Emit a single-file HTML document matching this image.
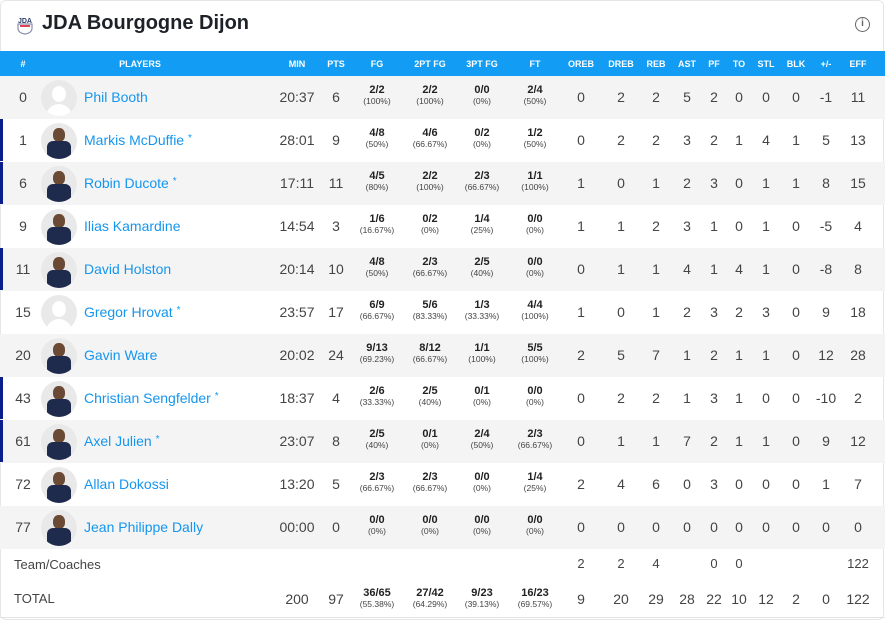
<!DOCTYPE html>
<html><head><meta charset="utf-8"><style>
*{margin:0;padding:0;box-sizing:border-box}
body{width:885px;height:625px;background:#fff;font-family:"Liberation Sans",Arial,sans-serif;position:relative;overflow:hidden;color:#444}
.card{position:absolute;left:0;top:0;width:884px;height:620px;border:1px solid #e6e6e6;border-radius:6px}
.title{position:absolute;left:42px;top:12px;font-size:20px;font-weight:bold;color:#1e2228}
.logo{position:absolute;left:15px;top:15px;width:20px;height:20px}
.info{position:absolute;left:855px;top:17px;width:15px;height:15px;border:1.5px solid #666;border-radius:50%;font-size:10px;text-align:center;line-height:12px;color:#666;font-weight:bold}
.hdr{position:absolute;left:0;top:51px;width:885px;height:25px;background:#129cf3;color:#fff;font-size:9px;font-weight:bold}
.row{position:absolute;left:0;width:885px;height:43px}
.g{background:#f4f4f4}
.row>div,.hdr>div{position:absolute;text-align:center}
.hdr>div{top:8px}
.row>div{top:13px;font-size:14px}
.row>div.f{top:8px;font-size:11px;font-weight:bold;color:#222;line-height:12px}
.f small{display:block;font-size:8.5px;font-weight:normal;color:#444;line-height:11px}
.mk{position:absolute;left:0;top:0 !important;width:3px;height:42px;background:#0b1f8c}
.av{top:4px !important;left:41px;width:36px;height:36px;border-radius:50%;background:#e9e9e9;overflow:hidden}
.av.p::before{content:"";position:absolute;left:12px;top:5px;width:12px;height:14px;border-radius:45%;background:#6b4a35}
.av.p::after{content:"";position:absolute;left:6px;top:18px;width:24px;height:20px;border-radius:6px 6px 0 0;background:#1f2b4d}
.av.e::before{content:"";position:absolute;left:11px;top:6px;width:14px;height:16px;border-radius:50%;background:#fff}
.av.e::after{content:"";position:absolute;left:5px;top:24px;width:26px;height:16px;border-radius:13px 13px 0 0;background:#fff}
.nm{left:84px;text-align:left !important;color:#1596ee}
.nm sup{font-size:10px;vertical-align:4px}
.c0{left:3px;width:40px}.c1{left:84px;width:180px}
.c2{left:272px;width:50px}.c3{left:316px;width:40px}
.c4{left:347px;width:60px}.c5{left:400px;width:60px}.c6{left:452px;width:60px}.c7{left:505px;width:60px}
.c8{left:561px;width:40px}.c9{left:601px;width:40px}.c10{left:636px;width:40px}.c11{left:667px;width:40px}
.c12{left:694px;width:40px}.c13{left:719px;width:40px}.c14{left:746px;width:40px}.c15{left:776px;width:40px}
.c16{left:806px;width:40px}.c17{left:838px;width:40px}
.lbl{left:14px;text-align:left !important;font-size:13px !important}
.line{position:absolute;left:0;top:617px;width:885px;height:1px;background:#e3e3e3}
</style></head><body>
<div class="card"></div>
<svg class="logo" viewBox="0 0 20 20"><text x="10" y="8" font-size="7" font-weight="bold" text-anchor="middle" fill="#2a3a6a" font-family="Liberation Sans">JDA</text><path d="M3 9 H17 V13 Q17 18 10 19 Q3 18 3 13Z" fill="none" stroke="#8a8fb0" stroke-width="1.2"/><rect x="5" y="10" width="10" height="2" fill="#d45"/></svg>
<div class="title">JDA Bourgogne Dijon</div>
<div class="info">i</div>
<div class="hdr">
<div class="c0">#</div><div class="c1" style="left:60px;width:160px">PLAYERS</div><div class="c2">MIN</div><div class="c3">PTS</div><div class="c4">FG</div><div class="c5">2PT FG</div><div class="c6">3PT FG</div><div class="c7">FT</div><div class="c8">OREB</div><div class="c9">DREB</div><div class="c10">REB</div><div class="c11">AST</div><div class="c12">PF</div><div class="c13">TO</div><div class="c14">STL</div><div class="c15">BLK</div><div class="c16">+/-</div><div class="c17">EFF</div>
</div>

<div class="row g" style="top:76px"><div class="c0">0</div><div class="av e"></div><div class="nm">Phil Booth</div><div class="c2">20:37</div><div class="c3">6</div><div class="c4 f">2/2<small>(100%)</small></div><div class="c5 f">2/2<small>(100%)</small></div><div class="c6 f">0/0<small>(0%)</small></div><div class="c7 f">2/4<small>(50%)</small></div><div class="c8">0</div><div class="c9">2</div><div class="c10">2</div><div class="c11">5</div><div class="c12">2</div><div class="c13">0</div><div class="c14">0</div><div class="c15">0</div><div class="c16">-1</div><div class="c17">11</div></div>

<div class="row" style="top:119px"><div class="mk"></div><div class="c0">1</div><div class="av p"></div><div class="nm">Markis McDuffie <sup>*</sup></div><div class="c2">28:01</div><div class="c3">9</div><div class="c4 f">4/8<small>(50%)</small></div><div class="c5 f">4/6<small>(66.67%)</small></div><div class="c6 f">0/2<small>(0%)</small></div><div class="c7 f">1/2<small>(50%)</small></div><div class="c8">0</div><div class="c9">2</div><div class="c10">2</div><div class="c11">3</div><div class="c12">2</div><div class="c13">1</div><div class="c14">4</div><div class="c15">1</div><div class="c16">5</div><div class="c17">13</div></div>

<div class="row g" style="top:162px"><div class="mk"></div><div class="c0">6</div><div class="av p"></div><div class="nm">Robin Ducote <sup>*</sup></div><div class="c2">17:11</div><div class="c3">11</div><div class="c4 f">4/5<small>(80%)</small></div><div class="c5 f">2/2<small>(100%)</small></div><div class="c6 f">2/3<small>(66.67%)</small></div><div class="c7 f">1/1<small>(100%)</small></div><div class="c8">1</div><div class="c9">0</div><div class="c10">1</div><div class="c11">2</div><div class="c12">3</div><div class="c13">0</div><div class="c14">1</div><div class="c15">1</div><div class="c16">8</div><div class="c17">15</div></div>

<div class="row" style="top:205px"><div class="c0">9</div><div class="av p"></div><div class="nm">Ilias Kamardine</div><div class="c2">14:54</div><div class="c3">3</div><div class="c4 f">1/6<small>(16.67%)</small></div><div class="c5 f">0/2<small>(0%)</small></div><div class="c6 f">1/4<small>(25%)</small></div><div class="c7 f">0/0<small>(0%)</small></div><div class="c8">1</div><div class="c9">1</div><div class="c10">2</div><div class="c11">3</div><div class="c12">1</div><div class="c13">0</div><div class="c14">1</div><div class="c15">0</div><div class="c16">-5</div><div class="c17">4</div></div>

<div class="row g" style="top:248px"><div class="mk"></div><div class="c0">11</div><div class="av p"></div><div class="nm">David Holston</div><div class="c2">20:14</div><div class="c3">10</div><div class="c4 f">4/8<small>(50%)</small></div><div class="c5 f">2/3<small>(66.67%)</small></div><div class="c6 f">2/5<small>(40%)</small></div><div class="c7 f">0/0<small>(0%)</small></div><div class="c8">0</div><div class="c9">1</div><div class="c10">1</div><div class="c11">4</div><div class="c12">1</div><div class="c13">4</div><div class="c14">1</div><div class="c15">0</div><div class="c16">-8</div><div class="c17">8</div></div>

<div class="row" style="top:291px"><div class="c0">15</div><div class="av e"></div><div class="nm">Gregor Hrovat <sup>*</sup></div><div class="c2">23:57</div><div class="c3">17</div><div class="c4 f">6/9<small>(66.67%)</small></div><div class="c5 f">5/6<small>(83.33%)</small></div><div class="c6 f">1/3<small>(33.33%)</small></div><div class="c7 f">4/4<small>(100%)</small></div><div class="c8">1</div><div class="c9">0</div><div class="c10">1</div><div class="c11">2</div><div class="c12">3</div><div class="c13">2</div><div class="c14">3</div><div class="c15">0</div><div class="c16">9</div><div class="c17">18</div></div>

<div class="row g" style="top:334px"><div class="c0">20</div><div class="av p"></div><div class="nm">Gavin Ware</div><div class="c2">20:02</div><div class="c3">24</div><div class="c4 f">9/13<small>(69.23%)</small></div><div class="c5 f">8/12<small>(66.67%)</small></div><div class="c6 f">1/1<small>(100%)</small></div><div class="c7 f">5/5<small>(100%)</small></div><div class="c8">2</div><div class="c9">5</div><div class="c10">7</div><div class="c11">1</div><div class="c12">2</div><div class="c13">1</div><div class="c14">1</div><div class="c15">0</div><div class="c16">12</div><div class="c17">28</div></div>

<div class="row" style="top:377px"><div class="mk"></div><div class="c0">43</div><div class="av p"></div><div class="nm">Christian Sengfelder <sup>*</sup></div><div class="c2">18:37</div><div class="c3">4</div><div class="c4 f">2/6<small>(33.33%)</small></div><div class="c5 f">2/5<small>(40%)</small></div><div class="c6 f">0/1<small>(0%)</small></div><div class="c7 f">0/0<small>(0%)</small></div><div class="c8">0</div><div class="c9">2</div><div class="c10">2</div><div class="c11">1</div><div class="c12">3</div><div class="c13">1</div><div class="c14">0</div><div class="c15">0</div><div class="c16">-10</div><div class="c17">2</div></div>

<div class="row g" style="top:420px"><div class="mk"></div><div class="c0">61</div><div class="av p"></div><div class="nm">Axel Julien <sup>*</sup></div><div class="c2">23:07</div><div class="c3">8</div><div class="c4 f">2/5<small>(40%)</small></div><div class="c5 f">0/1<small>(0%)</small></div><div class="c6 f">2/4<small>(50%)</small></div><div class="c7 f">2/3<small>(66.67%)</small></div><div class="c8">0</div><div class="c9">1</div><div class="c10">1</div><div class="c11">7</div><div class="c12">2</div><div class="c13">1</div><div class="c14">1</div><div class="c15">0</div><div class="c16">9</div><div class="c17">12</div></div>

<div class="row" style="top:463px"><div class="c0">72</div><div class="av p"></div><div class="nm">Allan Dokossi</div><div class="c2">13:20</div><div class="c3">5</div><div class="c4 f">2/3<small>(66.67%)</small></div><div class="c5 f">2/3<small>(66.67%)</small></div><div class="c6 f">0/0<small>(0%)</small></div><div class="c7 f">1/4<small>(25%)</small></div><div class="c8">2</div><div class="c9">4</div><div class="c10">6</div><div class="c11">0</div><div class="c12">3</div><div class="c13">0</div><div class="c14">0</div><div class="c15">0</div><div class="c16">1</div><div class="c17">7</div></div>

<div class="row g" style="top:506px"><div class="c0">77</div><div class="av p"></div><div class="nm">Jean Philippe Dally</div><div class="c2">00:00</div><div class="c3">0</div><div class="c4 f">0/0<small>(0%)</small></div><div class="c5 f">0/0<small>(0%)</small></div><div class="c6 f">0/0<small>(0%)</small></div><div class="c7 f">0/0<small>(0%)</small></div><div class="c8">0</div><div class="c9">0</div><div class="c10">0</div><div class="c11">0</div><div class="c12">0</div><div class="c13">0</div><div class="c14">0</div><div class="c15">0</div><div class="c16">0</div><div class="c17">0</div></div>

<div class="row" style="top:549px;height:32px"><div class="lbl" style="top:8px">Team/Coaches</div><div class="c8" style="top:7px;font-size:13px">2</div><div class="c9" style="top:7px;font-size:13px">2</div><div class="c10" style="top:7px;font-size:13px">4</div><div class="c12" style="top:7px;font-size:13px">0</div><div class="c13" style="top:7px;font-size:13px">0</div><div class="c17" style="top:7px;font-size:13px">122</div></div>

<div class="row" style="top:581px;height:36px"><div class="lbl" style="top:10px">TOTAL</div><div class="c2" style="top:10px">200</div><div class="c3" style="top:10px">97</div><div class="c4 f" style="top:6px">36/65<small>(55.38%)</small></div><div class="c5 f" style="top:6px">27/42<small>(64.29%)</small></div><div class="c6 f" style="top:6px">9/23<small>(39.13%)</small></div><div class="c7 f" style="top:6px">16/23<small>(69.57%)</small></div><div class="c8" style="top:10px">9</div><div class="c9" style="top:10px">20</div><div class="c10" style="top:10px">29</div><div class="c11" style="top:10px">28</div><div class="c12" style="top:10px">22</div><div class="c13" style="top:10px">10</div><div class="c14" style="top:10px">12</div><div class="c15" style="top:10px">2</div><div class="c16" style="top:10px">0</div><div class="c17" style="top:10px">122</div></div>
<div class="line"></div>
</body></html>
